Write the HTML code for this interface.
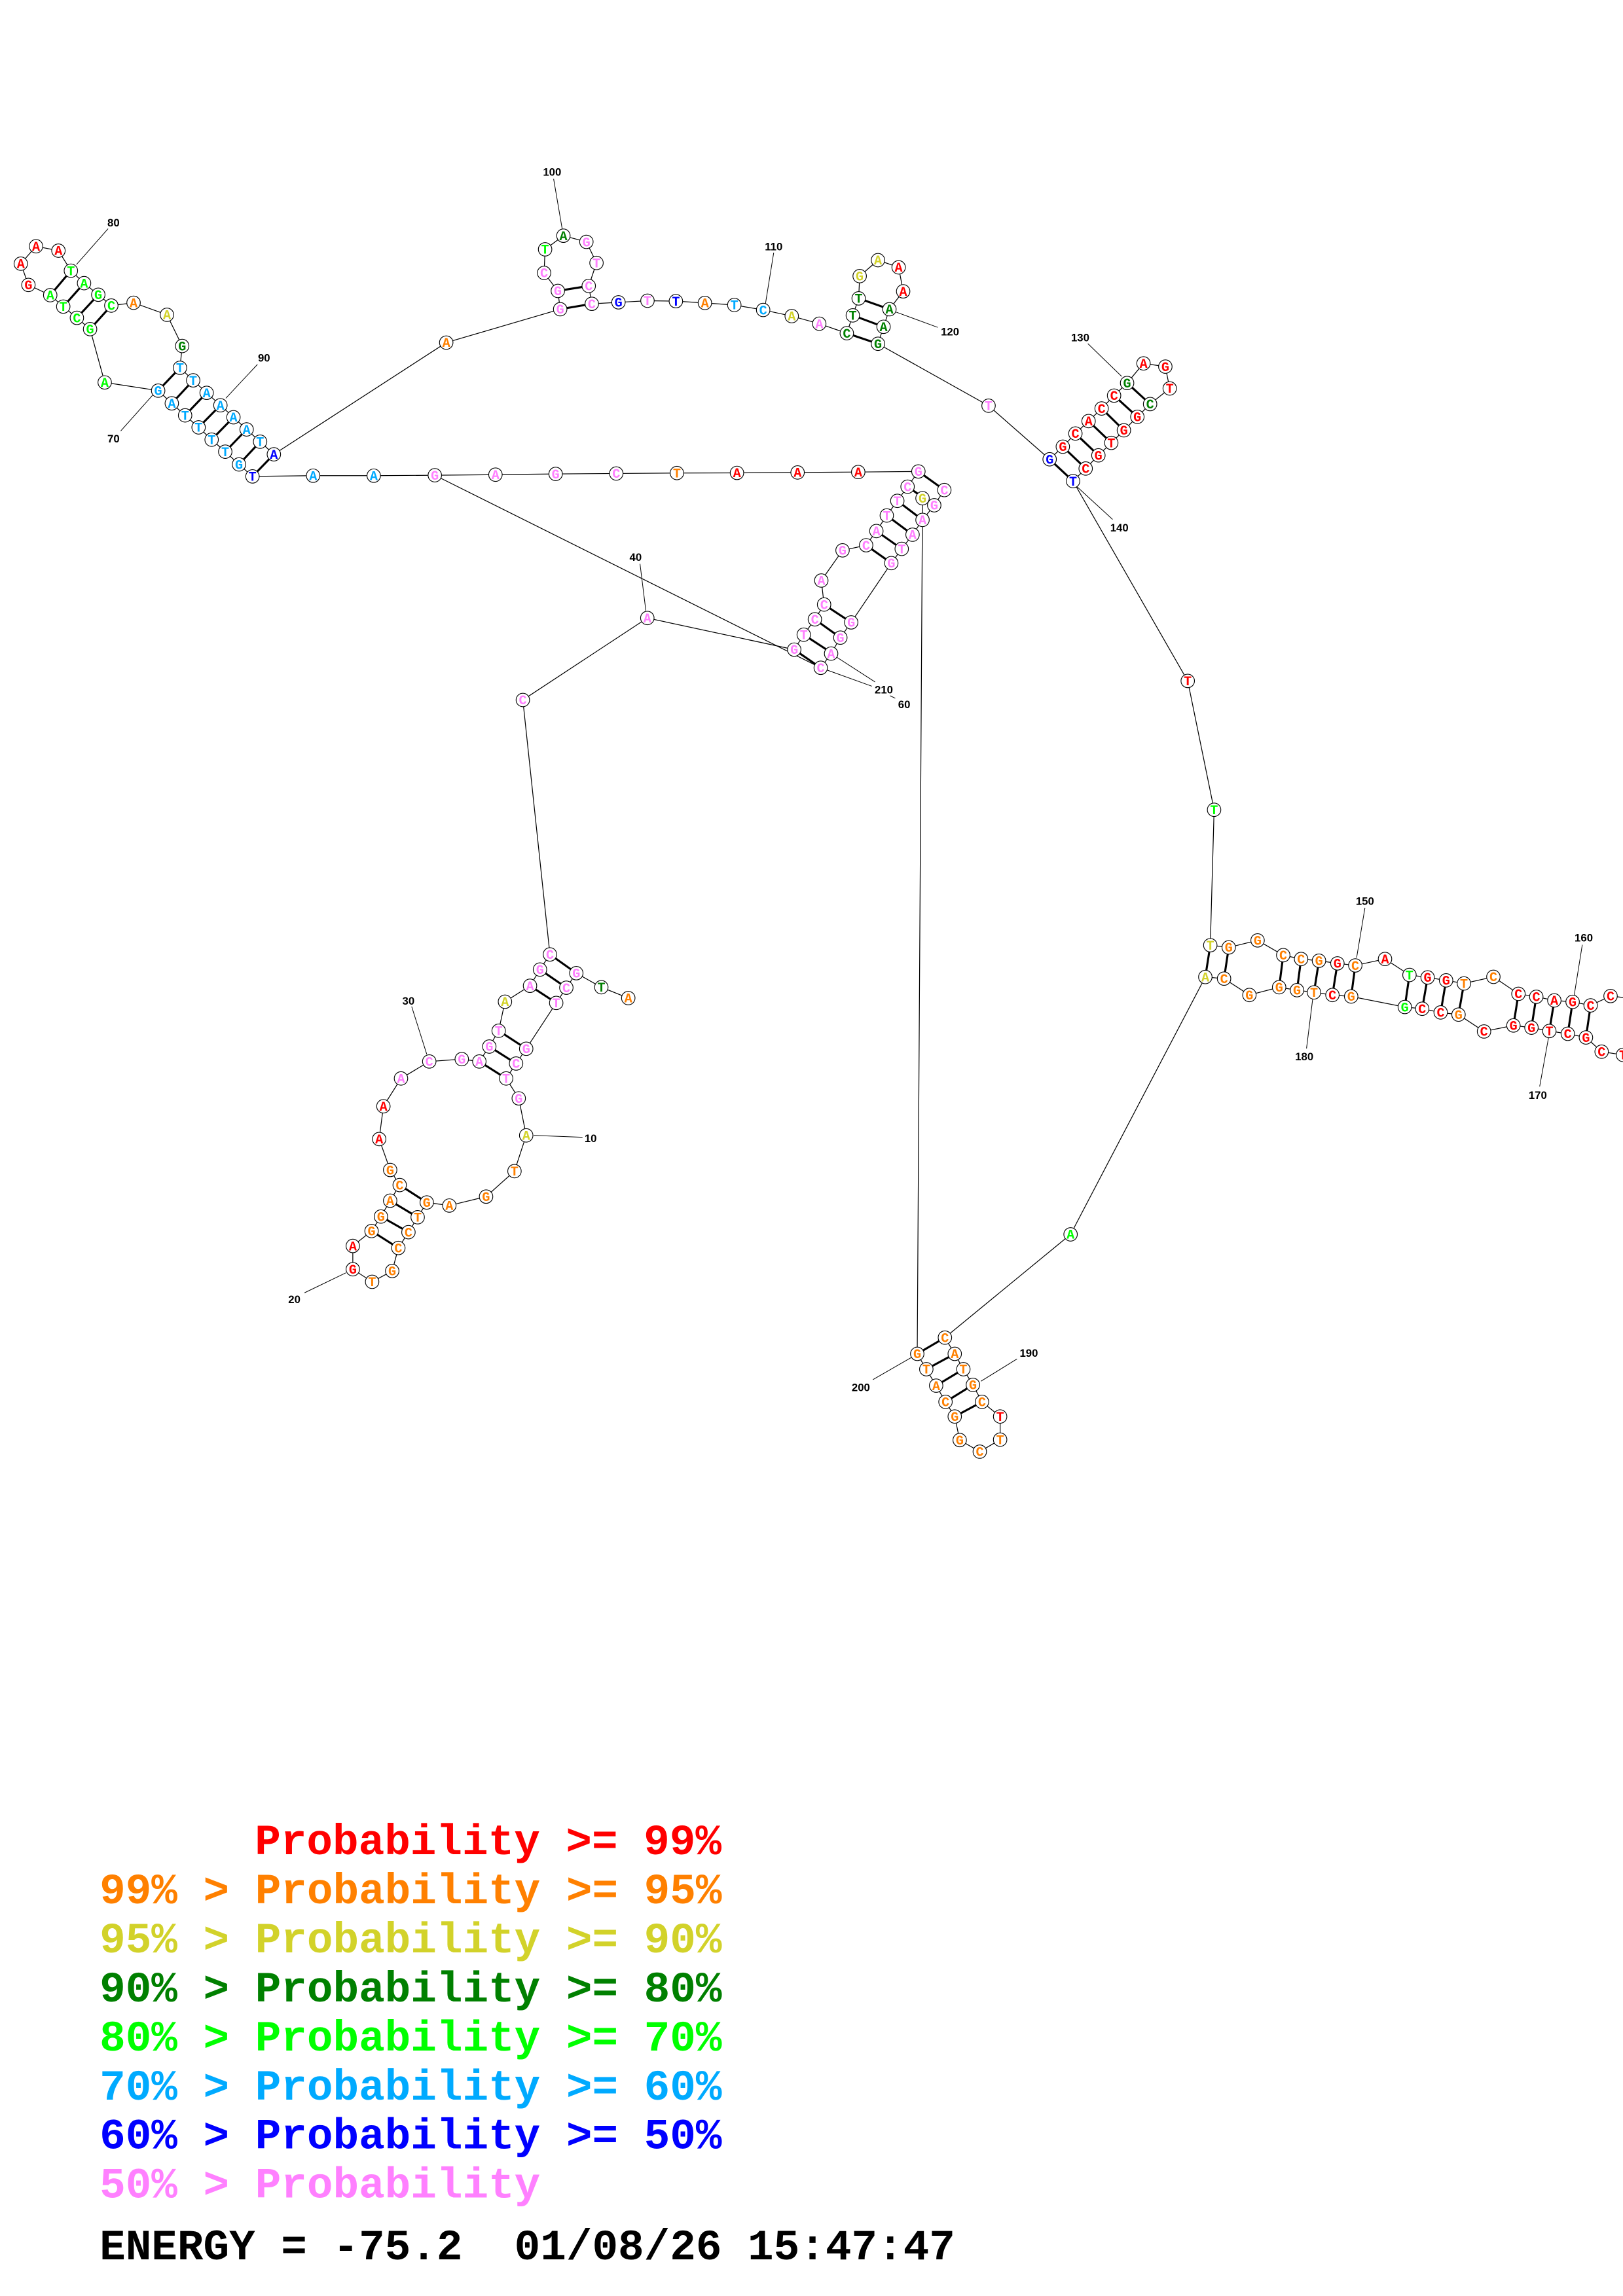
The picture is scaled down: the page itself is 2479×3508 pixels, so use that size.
<!DOCTYPE html>
<html><head><meta charset="utf-8"><style>
html,body{margin:0;padding:0;background:#fff}
svg{display:block}
.bb{fill:none;stroke:#000;stroke-width:0.55}
.pr{stroke:#000;stroke-width:1.4}
.ln{stroke:#000;stroke-width:0.45}
circle{fill:#fff;stroke:#000;stroke-width:0.5}
.nt text{font-family:"Liberation Mono",monospace;font-weight:bold;font-size:9px;text-anchor:middle}
.lb{font-family:"Liberation Sans",sans-serif;font-weight:bold;font-size:7.5px;text-anchor:middle;fill:#000}
.lg{font-family:"Liberation Mono",monospace;font-weight:bold;font-size:29.5px;white-space:pre}
.r{fill:#ff0000}.o{fill:#ff8000}.y{fill:#d2d22a}.d{fill:#008000}.l{fill:#00ff00}.s{fill:#00aaff}.b{fill:#0000ff}.p{fill:#ff80ff}.k{fill:#000}
</style></head><body>
<svg width="2479" height="3508" viewBox="0 0 1108.2 1568" xmlns="http://www.w3.org/2000/svg">
<rect width="1108.2" height="1568" fill="#fff"/>
<!-- backbone -->
<polyline class="bb" points="172.4,325.3 163.2,317.1 153.8,308.4 144.5,300.2 135.6,291.8 126.4,283.6 117.3,275.4 108,266.7 71.5,261.1 61.5,224.7 52.5,217 43.2,209.3 34.3,201.5 19.4,194.5 14.2,180 24.6,168.1 39.9,171.1 48.4,184.8 57.4,193.3 67.1,201.2 76,208.6 91.2,206.7 114,214.9 124.4,236.2 122.9,251.1 131.9,259.7 141.1,268.2 150.5,276.7 159.4,284.9 168.4,293.2 177.6,301.6 187,310.2 304.7,233.9 382.5,211.1 380.9,198.6 371.5,186.3 372.2,170.2 384.7,160.9 400.4,165.1 407.3,179.5 402,195.2 404.1,207.4 422.3,206.4 442.1,205.3 461.5,205.6 481.3,206.8 501.4,208.2 521.1,211.6 540.6,215.8 559.4,221 578.2,227.5 582.3,215.3 586.3,203.7 587,188.5 599.5,177.6 613.6,182.5 616.7,198.9 607.3,211.1 603.3,223.1 599.5,234.7 675,277 716.7,313.6 725.7,305 734.3,296 743.3,287.5 752.2,278.9 760.7,270.1 769.6,261.5 780.8,248.1 795.7,250.3 798.7,265.2 785.3,275.9 776.6,284.6 767.4,293.8 758.8,302.4 750,310.9 741.3,319.9 732.7,328.5 811,465 829,553 826.4,645.5 839,647 858.7,642.2 876.2,652.3 888.4,654.9 900.6,656.1 913.2,657.9 925.4,659.3 945.7,654.9 962.4,665.8 974.8,667.5 987.4,669.5 999.6,671.6 1019.7,667.1 1036.8,678.7 1049,680.7 1061.3,683.2 1073.8,684.2 1086.1,686.6 1099.7,680.2 1115,682"/>
<polyline class="bb" points="1115,718 1108.2,720.4 1093.6,718.2 1082.9,708.5 1070.5,706 1057.9,704.1 1045.7,701.8 1033.4,700.3 1013.3,704.4 995.9,692.9 983.7,691.4 971.1,688.9 959.2,687.7 922.6,680.5 909.8,679.5 897.2,677.7 885.6,676.2 873.4,674.2 853.1,679.5 835.8,668.3 823,667.2 731,843 645.2,913.5 651.9,924.6 657.8,935.1 664.3,945.8 670.5,957.4 682.9,967.4 682.9,983.2 669,991.4 655.3,983.5 651.9,967.4 645.6,957.4 639.2,946.3 632.5,935.1 626.3,924.6 629.9,340.2"/>
<polyline class="bb" points="172.4,325.3 213.8,324.8 255.2,324.8 296.9,324.5 338.3,324.1 379.4,323.6 420.8,323.3 462.2,323 503.2,322.9 544.6,322.6 586,322.3 627.1,321.9 619.7,332.3 612.7,342 605.5,352 598.4,362.6 591.4,372.3 575.3,375.8 560.8,396.4 562.7,412.8 556.4,422.9 548.8,433.4 542.3,443.6 560.4,456 567.5,446.3 573.8,435.4 581.2,425 608.6,384.5 615.7,374.8 623.1,365.1 629.9,355 637.9,345 644.8,334.6"/>
<polyline class="bb" points="619.7,332.3 629.9,340.2 637.9,345"/>
<polyline class="bb" points="429,681.6 410.6,674.2 393.5,664.6 386.7,674.5 379.8,684.9 359.3,716.2 352.4,726.3 345.6,736.5 354.2,750.1 359.3,775.4 351.3,799.8 331.9,817.2 306.8,823.3 291.4,821.2 285.2,831.3 278.9,841.5 272,852.3 267.8,868 254.1,875.4 240.9,866.8 240.9,850.9 253.7,840.7 260.1,830.8 266.4,820 272.9,809.3 266.4,799 258.9,777.9 261.8,755.5 273.8,736.5 293.1,724.9 315.3,723.3 327.3,724.9 334.1,714.7 340.5,703.9 344.8,684.1 361.9,673.2 368.7,662.1 375.5,651.8 357,478 442,422 542.3,443.6"/>
<line class="bb" x1="296.9" y1="324.5" x2="560.4" y2="456"/>
<!-- leaders -->
<g class="ln">
<line x1="560.4" y1="456" x2="595.3" y2="468.6"/><line x1="567.5" y1="446.3" x2="597.5" y2="465.7"/><line x1="607.7" y1="475.1" x2="611.3" y2="476.8"/>
<line x1="73.8" y1="156.1" x2="52.2" y2="180.6"/><line x1="175.8" y1="248.8" x2="154.2" y2="271.9"/><line x1="82.4" y1="294.3" x2="104.3" y2="269.7"/>
<line x1="378" y1="122" x2="384" y2="157"/><line x1="528.3" y1="172.5" x2="522.7" y2="207.1"/><line x1="640.3" y1="223.5" x2="612" y2="213.1"/>
<line x1="742.8" y1="234.6" x2="765.9" y2="257"/><line x1="735" y1="332" x2="759.7" y2="354.7"/>
<line x1="932" y1="619.9" x2="926.3" y2="654.1"/><line x1="1080.4" y1="645.2" x2="1074.8" y2="680.2"/><line x1="1051.3" y1="742" x2="1057.5" y2="707.8"/><line x1="892.1" y1="716" x2="896.3" y2="682.4"/>
<line x1="694.4" y1="928.1" x2="669.8" y2="943.3"/><line x1="596" y1="942.2" x2="622.1" y2="927.2"/>
<line x1="364.4" y1="775.4" x2="397.8" y2="776.7"/><line x1="207.9" y1="882.9" x2="236.1" y2="869.3"/><line x1="281.1" y1="687.4" x2="291.4" y2="720"/><line x1="437" y1="385" x2="441" y2="417"/>
</g>
<!-- pairs -->
<g class="pr">
<line x1="48.4" y1="184.8" x2="34.3" y2="201.5"/><line x1="57.4" y1="193.3" x2="43.2" y2="209.3"/><line x1="67.1" y1="201.2" x2="52.5" y2="217"/><line x1="76" y1="208.6" x2="61.5" y2="224.7"/>
<line x1="122.9" y1="251.1" x2="108" y2="266.7"/><line x1="131.9" y1="259.7" x2="117.3" y2="275.4"/><line x1="141.1" y1="268.2" x2="126.4" y2="283.6"/><line x1="150.5" y1="276.7" x2="135.6" y2="291.8"/><line x1="159.4" y1="284.9" x2="144.5" y2="300.2"/><line x1="168.4" y1="293.2" x2="153.8" y2="308.4"/><line x1="177.6" y1="301.6" x2="163.2" y2="317.1"/><line x1="187" y1="310.2" x2="172.4" y2="325.3"/>
<line x1="380.9" y1="198.6" x2="402" y2="195.2"/><line x1="382.5" y1="211.1" x2="404.1" y2="207.4"/>
<line x1="586.3" y1="203.7" x2="607.3" y2="211.1"/><line x1="582.3" y1="215.3" x2="603.3" y2="223.1"/><line x1="578.2" y1="227.5" x2="599.5" y2="234.7"/>
<line x1="769.6" y1="261.5" x2="785.3" y2="275.9"/><line x1="760.7" y1="270.1" x2="776.6" y2="284.6"/><line x1="752.2" y1="278.9" x2="767.4" y2="293.8"/><line x1="743.3" y1="287.5" x2="758.8" y2="302.4"/><line x1="734.3" y1="296" x2="750" y2="310.9"/><line x1="725.7" y1="305" x2="741.3" y2="319.9"/><line x1="716.7" y1="313.6" x2="732.7" y2="328.5"/>
<line x1="826.4" y1="645.5" x2="823" y2="667.2"/><line x1="839" y1="647" x2="835.8" y2="668.3"/><line x1="876.2" y1="652.3" x2="873.4" y2="674.2"/><line x1="888.4" y1="654.9" x2="885.6" y2="676.2"/><line x1="900.6" y1="656.1" x2="897.2" y2="677.7"/><line x1="913.2" y1="657.9" x2="909.8" y2="679.5"/><line x1="925.4" y1="659.3" x2="922.6" y2="680.5"/>
<line x1="962.4" y1="665.8" x2="959.2" y2="687.7"/><line x1="974.8" y1="667.5" x2="971.1" y2="688.9"/><line x1="987.4" y1="669.5" x2="983.7" y2="691.4"/><line x1="999.6" y1="671.6" x2="995.9" y2="692.9"/>
<line x1="1036.8" y1="678.7" x2="1033.4" y2="700.3"/><line x1="1049" y1="680.7" x2="1045.7" y2="701.8"/><line x1="1061.3" y1="683.2" x2="1057.9" y2="704.1"/><line x1="1073.8" y1="684.2" x2="1070.5" y2="706"/><line x1="1086.1" y1="686.6" x2="1082.9" y2="708.5"/>
<line x1="626.3" y1="924.6" x2="645.2" y2="913.5"/><line x1="632.5" y1="935.1" x2="651.9" y2="924.6"/><line x1="639.2" y1="946.3" x2="657.8" y2="935.1"/><line x1="645.6" y1="957.4" x2="664.3" y2="945.8"/><line x1="651.9" y1="967.4" x2="670.5" y2="957.4"/>
<line x1="375.5" y1="651.8" x2="393.5" y2="664.6"/><line x1="368.7" y1="662.1" x2="386.7" y2="674.5"/><line x1="361.9" y1="673.2" x2="379.8" y2="684.9"/><line x1="340.5" y1="703.9" x2="359.3" y2="716.2"/><line x1="334.1" y1="714.7" x2="352.4" y2="726.3"/><line x1="327.3" y1="724.9" x2="345.6" y2="736.5"/>
<line x1="272.9" y1="809.3" x2="291.4" y2="821.2"/><line x1="266.4" y1="820" x2="285.2" y2="831.3"/><line x1="260.1" y1="830.8" x2="278.9" y2="841.5"/><line x1="253.7" y1="840.7" x2="272" y2="852.3"/>
<line x1="627.1" y1="321.9" x2="644.8" y2="334.6"/><line x1="619.7" y1="332.3" x2="637.9" y2="345"/><line x1="612.7" y1="342" x2="629.9" y2="355"/><line x1="605.5" y1="352" x2="623.1" y2="365.1"/><line x1="598.4" y1="362.6" x2="615.7" y2="374.8"/><line x1="591.4" y1="372.3" x2="608.6" y2="384.5"/>
<line x1="562.7" y1="412.8" x2="581.2" y2="425"/><line x1="556.4" y1="422.9" x2="573.8" y2="435.4"/><line x1="548.8" y1="433.4" x2="567.5" y2="445.6"/><line x1="542.3" y1="443.6" x2="560.4" y2="456"/>
</g>
<!-- nodes -->
<g class="nt">
<circle cx="24.6" cy="168.1" r="4.6"/><text x="24.6" y="171.1" class="r">A</text>
<circle cx="39.9" cy="171.1" r="4.6"/><text x="39.9" y="174.1" class="r">A</text>
<circle cx="14.2" cy="180" r="4.6"/><text x="14.2" y="183" class="r">A</text>
<circle cx="19.4" cy="194.5" r="4.6"/><text x="19.4" y="197.5" class="r">G</text>
<circle cx="48.4" cy="184.8" r="4.6"/><text x="48.4" y="187.8" class="l">T</text>
<circle cx="57.4" cy="193.3" r="4.6"/><text x="57.4" y="196.3" class="l">A</text>
<circle cx="67.1" cy="201.2" r="4.6"/><text x="67.1" y="204.2" class="l">G</text>
<circle cx="76" cy="208.6" r="4.6"/><text x="76" y="211.6" class="l">C</text>
<circle cx="34.3" cy="201.5" r="4.6"/><text x="34.3" y="204.5" class="l">A</text>
<circle cx="43.2" cy="209.3" r="4.6"/><text x="43.2" y="212.3" class="l">T</text>
<circle cx="52.5" cy="217" r="4.6"/><text x="52.5" y="220" class="l">C</text>
<circle cx="61.5" cy="224.7" r="4.6"/><text x="61.5" y="227.7" class="l">G</text>
<circle cx="91.2" cy="206.7" r="4.6"/><text x="91.2" y="209.7" class="o">A</text>
<circle cx="114" cy="214.9" r="4.6"/><text x="114" y="217.9" class="y">A</text>
<circle cx="124.4" cy="236.2" r="4.6"/><text x="124.4" y="239.2" class="d">G</text>
<circle cx="122.9" cy="251.1" r="4.6"/><text x="122.9" y="254.1" class="s">T</text>
<circle cx="131.9" cy="259.7" r="4.6"/><text x="131.9" y="262.7" class="s">T</text>
<circle cx="141.1" cy="268.2" r="4.6"/><text x="141.1" y="271.2" class="s">A</text>
<circle cx="150.5" cy="276.7" r="4.6"/><text x="150.5" y="279.7" class="s">A</text>
<circle cx="159.4" cy="284.9" r="4.6"/><text x="159.4" y="287.9" class="s">A</text>
<circle cx="168.4" cy="293.2" r="4.6"/><text x="168.4" y="296.2" class="s">A</text>
<circle cx="177.6" cy="301.6" r="4.6"/><text x="177.6" y="304.6" class="s">T</text>
<circle cx="187" cy="310.2" r="4.6"/><text x="187" y="313.2" class="b">A</text>
<circle cx="108" cy="266.7" r="4.6"/><text x="108" y="269.7" class="s">G</text>
<circle cx="117.3" cy="275.4" r="4.6"/><text x="117.3" y="278.4" class="s">A</text>
<circle cx="126.4" cy="283.6" r="4.6"/><text x="126.4" y="286.6" class="s">T</text>
<circle cx="135.6" cy="291.8" r="4.6"/><text x="135.6" y="294.8" class="s">T</text>
<circle cx="144.5" cy="300.2" r="4.6"/><text x="144.5" y="303.2" class="s">T</text>
<circle cx="153.8" cy="308.4" r="4.6"/><text x="153.8" y="311.4" class="s">T</text>
<circle cx="163.2" cy="317.1" r="4.6"/><text x="163.2" y="320.1" class="s">G</text>
<circle cx="172.4" cy="325.3" r="4.6"/><text x="172.4" y="328.3" class="b">T</text>
<circle cx="71.5" cy="261.1" r="4.6"/><text x="71.5" y="264.1" class="l">A</text>
<circle cx="304.7" cy="233.9" r="4.6"/><text x="304.7" y="236.9" class="o">A</text>
<circle cx="384.7" cy="160.9" r="4.6"/><text x="384.7" y="163.9" class="d">A</text>
<circle cx="400.4" cy="165.1" r="4.6"/><text x="400.4" y="168.1" class="p">G</text>
<circle cx="372.2" cy="170.2" r="4.6"/><text x="372.2" y="173.2" class="l">T</text>
<circle cx="407.3" cy="179.5" r="4.6"/><text x="407.3" y="182.5" class="p">T</text>
<circle cx="371.5" cy="186.3" r="4.6"/><text x="371.5" y="189.3" class="p">C</text>
<circle cx="402" cy="195.2" r="4.6"/><text x="402" y="198.2" class="p">C</text>
<circle cx="380.9" cy="198.6" r="4.6"/><text x="380.9" y="201.6" class="p">G</text>
<circle cx="382.5" cy="211.1" r="4.6"/><text x="382.5" y="214.1" class="p">G</text>
<circle cx="404.1" cy="207.4" r="4.6"/><text x="404.1" y="210.4" class="p">C</text>
<circle cx="422.3" cy="206.4" r="4.6"/><text x="422.3" y="209.4" class="b">G</text>
<circle cx="442.1" cy="205.3" r="4.6"/><text x="442.1" y="208.3" class="p">T</text>
<circle cx="461.5" cy="205.6" r="4.6"/><text x="461.5" y="208.6" class="b">T</text>
<circle cx="481.3" cy="206.8" r="4.6"/><text x="481.3" y="209.8" class="o">A</text>
<circle cx="501.4" cy="208.2" r="4.6"/><text x="501.4" y="211.2" class="s">T</text>
<circle cx="521.1" cy="211.6" r="4.6"/><text x="521.1" y="214.6" class="s">C</text>
<circle cx="540.6" cy="215.8" r="4.6"/><text x="540.6" y="218.8" class="y">A</text>
<circle cx="559.4" cy="221" r="4.6"/><text x="559.4" y="224" class="p">A</text>
<circle cx="578.2" cy="227.5" r="4.6"/><text x="578.2" y="230.5" class="d">C</text>
<circle cx="599.5" cy="234.7" r="4.6"/><text x="599.5" y="237.7" class="d">G</text>
<circle cx="582.3" cy="215.3" r="4.6"/><text x="582.3" y="218.3" class="d">T</text>
<circle cx="586.3" cy="203.7" r="4.6"/><text x="586.3" y="206.7" class="d">T</text>
<circle cx="587" cy="188.5" r="4.6"/><text x="587" y="191.5" class="y">G</text>
<circle cx="599.5" cy="177.6" r="4.6"/><text x="599.5" y="180.6" class="y">A</text>
<circle cx="613.6" cy="182.5" r="4.6"/><text x="613.6" y="185.5" class="r">A</text>
<circle cx="616.7" cy="198.9" r="4.6"/><text x="616.7" y="201.9" class="r">A</text>
<circle cx="607.3" cy="211.1" r="4.6"/><text x="607.3" y="214.1" class="d">A</text>
<circle cx="603.3" cy="223.1" r="4.6"/><text x="603.3" y="226.1" class="d">A</text>
<circle cx="675" cy="277" r="4.6"/><text x="675" y="280" class="p">T</text>
<circle cx="780.8" cy="248.1" r="4.6"/><text x="780.8" y="251.1" class="r">A</text>
<circle cx="795.7" cy="250.3" r="4.6"/><text x="795.7" y="253.3" class="r">G</text>
<circle cx="798.7" cy="265.2" r="4.6"/><text x="798.7" y="268.2" class="r">T</text>
<circle cx="785.3" cy="275.9" r="4.6"/><text x="785.3" y="278.9" class="d">C</text>
<circle cx="776.6" cy="284.6" r="4.6"/><text x="776.6" y="287.6" class="r">G</text>
<circle cx="767.4" cy="293.8" r="4.6"/><text x="767.4" y="296.8" class="r">G</text>
<circle cx="758.8" cy="302.4" r="4.6"/><text x="758.8" y="305.4" class="r">T</text>
<circle cx="750" cy="310.9" r="4.6"/><text x="750" y="313.9" class="r">G</text>
<circle cx="741.3" cy="319.9" r="4.6"/><text x="741.3" y="322.9" class="r">C</text>
<circle cx="732.7" cy="328.5" r="4.6"/><text x="732.7" y="331.5" class="b">T</text>
<circle cx="716.7" cy="313.6" r="4.6"/><text x="716.7" y="316.6" class="b">G</text>
<circle cx="725.7" cy="305" r="4.6"/><text x="725.7" y="308" class="r">G</text>
<circle cx="734.3" cy="296" r="4.6"/><text x="734.3" y="299" class="r">C</text>
<circle cx="743.3" cy="287.5" r="4.6"/><text x="743.3" y="290.5" class="r">A</text>
<circle cx="752.2" cy="278.9" r="4.6"/><text x="752.2" y="281.9" class="r">C</text>
<circle cx="760.7" cy="270.1" r="4.6"/><text x="760.7" y="273.1" class="r">C</text>
<circle cx="769.6" cy="261.5" r="4.6"/><text x="769.6" y="264.5" class="d">G</text>
<circle cx="811" cy="465" r="4.6"/><text x="811" y="468" class="r">T</text>
<circle cx="829" cy="553" r="4.6"/><text x="829" y="556" class="l">T</text>
<circle cx="826.4" cy="645.5" r="4.6"/><text x="826.4" y="648.5" class="y">T</text>
<circle cx="823" cy="667.2" r="4.6"/><text x="823" y="670.2" class="y">A</text>
<circle cx="839" cy="647" r="4.6"/><text x="839" y="650" class="o">G</text>
<circle cx="835.8" cy="668.3" r="4.6"/><text x="835.8" y="671.3" class="o">C</text>
<circle cx="858.7" cy="642.2" r="4.6"/><text x="858.7" y="645.2" class="o">G</text>
<circle cx="853.1" cy="679.5" r="4.6"/><text x="853.1" y="682.5" class="o">G</text>
<circle cx="876.2" cy="652.3" r="4.6"/><text x="876.2" y="655.3" class="o">C</text>
<circle cx="888.4" cy="654.9" r="4.6"/><text x="888.4" y="657.9" class="o">C</text>
<circle cx="900.6" cy="656.1" r="4.6"/><text x="900.6" y="659.1" class="o">G</text>
<circle cx="913.2" cy="657.9" r="4.6"/><text x="913.2" y="660.9" class="r">G</text>
<circle cx="925.4" cy="659.3" r="4.6"/><text x="925.4" y="662.3" class="o">C</text>
<circle cx="945.7" cy="654.9" r="4.6"/><text x="945.7" y="657.9" class="r">A</text>
<circle cx="873.4" cy="674.2" r="4.6"/><text x="873.4" y="677.2" class="o">G</text>
<circle cx="885.6" cy="676.2" r="4.6"/><text x="885.6" y="679.2" class="o">G</text>
<circle cx="897.2" cy="677.7" r="4.6"/><text x="897.2" y="680.7" class="o">T</text>
<circle cx="909.8" cy="679.5" r="4.6"/><text x="909.8" y="682.5" class="r">C</text>
<circle cx="922.6" cy="680.5" r="4.6"/><text x="922.6" y="683.5" class="o">G</text>
<circle cx="962.4" cy="665.8" r="4.6"/><text x="962.4" y="668.8" class="l">T</text>
<circle cx="974.8" cy="667.5" r="4.6"/><text x="974.8" y="670.5" class="r">G</text>
<circle cx="987.4" cy="669.5" r="4.6"/><text x="987.4" y="672.5" class="r">G</text>
<circle cx="999.6" cy="671.6" r="4.6"/><text x="999.6" y="674.6" class="o">T</text>
<circle cx="1019.7" cy="667.1" r="4.6"/><text x="1019.7" y="670.1" class="o">C</text>
<circle cx="959.2" cy="687.7" r="4.6"/><text x="959.2" y="690.7" class="l">G</text>
<circle cx="971.1" cy="688.9" r="4.6"/><text x="971.1" y="691.9" class="r">C</text>
<circle cx="983.7" cy="691.4" r="4.6"/><text x="983.7" y="694.4" class="r">C</text>
<circle cx="995.9" cy="692.9" r="4.6"/><text x="995.9" y="695.9" class="o">G</text>
<circle cx="1013.3" cy="704.4" r="4.6"/><text x="1013.3" y="707.4" class="r">C</text>
<circle cx="1036.8" cy="678.7" r="4.6"/><text x="1036.8" y="681.7" class="r">C</text>
<circle cx="1049" cy="680.7" r="4.6"/><text x="1049" y="683.7" class="r">C</text>
<circle cx="1061.3" cy="683.2" r="4.6"/><text x="1061.3" y="686.2" class="r">A</text>
<circle cx="1073.8" cy="684.2" r="4.6"/><text x="1073.8" y="687.2" class="r">G</text>
<circle cx="1086.1" cy="686.6" r="4.6"/><text x="1086.1" y="689.6" class="r">C</text>
<circle cx="1099.7" cy="680.2" r="4.6"/><text x="1099.7" y="683.2" class="r">C</text>
<circle cx="1033.4" cy="700.3" r="4.6"/><text x="1033.4" y="703.3" class="r">G</text>
<circle cx="1045.7" cy="701.8" r="4.6"/><text x="1045.7" y="704.8" class="r">G</text>
<circle cx="1057.9" cy="704.1" r="4.6"/><text x="1057.9" y="707.1" class="r">T</text>
<circle cx="1070.5" cy="706" r="4.6"/><text x="1070.5" y="709" class="r">C</text>
<circle cx="1082.9" cy="708.5" r="4.6"/><text x="1082.9" y="711.5" class="r">G</text>
<circle cx="1093.6" cy="718.2" r="4.6"/><text x="1093.6" y="721.2" class="r">C</text>
<circle cx="1108.2" cy="720.4" r="4.6"/><text x="1108.2" y="723.4" class="r">T</text>
<circle cx="731" cy="843" r="4.6"/><text x="731" y="846" class="l">A</text>
<circle cx="645.2" cy="913.5" r="4.6"/><text x="645.2" y="916.5" class="o">C</text>
<circle cx="626.3" cy="924.6" r="4.6"/><text x="626.3" y="927.6" class="o">G</text>
<circle cx="651.9" cy="924.6" r="4.6"/><text x="651.9" y="927.6" class="o">A</text>
<circle cx="632.5" cy="935.1" r="4.6"/><text x="632.5" y="938.1" class="o">T</text>
<circle cx="657.8" cy="935.1" r="4.6"/><text x="657.8" y="938.1" class="o">T</text>
<circle cx="639.2" cy="946.3" r="4.6"/><text x="639.2" y="949.3" class="o">A</text>
<circle cx="664.3" cy="945.8" r="4.6"/><text x="664.3" y="948.8" class="o">G</text>
<circle cx="645.6" cy="957.4" r="4.6"/><text x="645.6" y="960.4" class="o">C</text>
<circle cx="670.5" cy="957.4" r="4.6"/><text x="670.5" y="960.4" class="o">C</text>
<circle cx="651.9" cy="967.4" r="4.6"/><text x="651.9" y="970.4" class="o">G</text>
<circle cx="682.9" cy="967.4" r="4.6"/><text x="682.9" y="970.4" class="r">T</text>
<circle cx="655.3" cy="983.5" r="4.6"/><text x="655.3" y="986.5" class="o">G</text>
<circle cx="682.9" cy="983.2" r="4.6"/><text x="682.9" y="986.2" class="o">T</text>
<circle cx="669" cy="991.4" r="4.6"/><text x="669" y="994.4" class="o">C</text>
<circle cx="375.5" cy="651.8" r="4.6"/><text x="375.5" y="654.8" class="p">C</text>
<circle cx="368.7" cy="662.1" r="4.6"/><text x="368.7" y="665.1" class="p">G</text>
<circle cx="361.9" cy="673.2" r="4.6"/><text x="361.9" y="676.2" class="p">A</text>
<circle cx="344.8" cy="684.1" r="4.6"/><text x="344.8" y="687.1" class="y">A</text>
<circle cx="340.5" cy="703.9" r="4.6"/><text x="340.5" y="706.9" class="p">T</text>
<circle cx="334.1" cy="714.7" r="4.6"/><text x="334.1" y="717.7" class="p">G</text>
<circle cx="327.3" cy="724.9" r="4.6"/><text x="327.3" y="727.9" class="p">A</text>
<circle cx="315.3" cy="723.3" r="4.6"/><text x="315.3" y="726.3" class="p">G</text>
<circle cx="293.1" cy="724.9" r="4.6"/><text x="293.1" y="727.9" class="p">C</text>
<circle cx="273.8" cy="736.5" r="4.6"/><text x="273.8" y="739.5" class="p">A</text>
<circle cx="261.8" cy="755.5" r="4.6"/><text x="261.8" y="758.5" class="r">A</text>
<circle cx="258.9" cy="777.9" r="4.6"/><text x="258.9" y="780.9" class="r">A</text>
<circle cx="266.4" cy="799" r="4.6"/><text x="266.4" y="802" class="o">G</text>
<circle cx="272.9" cy="809.3" r="4.6"/><text x="272.9" y="812.3" class="o">C</text>
<circle cx="266.4" cy="820" r="4.6"/><text x="266.4" y="823" class="o">A</text>
<circle cx="260.1" cy="830.8" r="4.6"/><text x="260.1" y="833.8" class="o">G</text>
<circle cx="253.7" cy="840.7" r="4.6"/><text x="253.7" y="843.7" class="o">G</text>
<circle cx="240.9" cy="850.9" r="4.6"/><text x="240.9" y="853.9" class="r">A</text>
<circle cx="240.9" cy="866.8" r="4.6"/><text x="240.9" y="869.8" class="r">G</text>
<circle cx="254.1" cy="875.4" r="4.6"/><text x="254.1" y="878.4" class="o">T</text>
<circle cx="267.8" cy="868" r="4.6"/><text x="267.8" y="871" class="o">G</text>
<circle cx="272" cy="852.3" r="4.6"/><text x="272" y="855.3" class="o">C</text>
<circle cx="278.9" cy="841.5" r="4.6"/><text x="278.9" y="844.5" class="o">C</text>
<circle cx="285.2" cy="831.3" r="4.6"/><text x="285.2" y="834.3" class="o">T</text>
<circle cx="291.4" cy="821.2" r="4.6"/><text x="291.4" y="824.2" class="o">G</text>
<circle cx="306.8" cy="823.3" r="4.6"/><text x="306.8" y="826.3" class="o">A</text>
<circle cx="331.9" cy="817.2" r="4.6"/><text x="331.9" y="820.2" class="o">G</text>
<circle cx="351.3" cy="799.8" r="4.6"/><text x="351.3" y="802.8" class="o">T</text>
<circle cx="359.3" cy="775.4" r="4.6"/><text x="359.3" y="778.4" class="y">A</text>
<circle cx="354.2" cy="750.1" r="4.6"/><text x="354.2" y="753.1" class="p">G</text>
<circle cx="345.6" cy="736.5" r="4.6"/><text x="345.6" y="739.5" class="p">T</text>
<circle cx="352.4" cy="726.3" r="4.6"/><text x="352.4" y="729.3" class="p">C</text>
<circle cx="359.3" cy="716.2" r="4.6"/><text x="359.3" y="719.2" class="p">G</text>
<circle cx="379.8" cy="684.9" r="4.6"/><text x="379.8" y="687.9" class="p">T</text>
<circle cx="386.7" cy="674.5" r="4.6"/><text x="386.7" y="677.5" class="p">C</text>
<circle cx="393.5" cy="664.6" r="4.6"/><text x="393.5" y="667.6" class="p">G</text>
<circle cx="410.6" cy="674.2" r="4.6"/><text x="410.6" y="677.2" class="d">T</text>
<circle cx="429" cy="681.6" r="4.6"/><text x="429" y="684.6" class="o">A</text>
<circle cx="357" cy="478" r="4.6"/><text x="357" y="481" class="p">C</text>
<circle cx="442" cy="422" r="4.6"/><text x="442" y="425" class="p">A</text>
<circle cx="213.8" cy="324.8" r="4.6"/><text x="213.8" y="327.8" class="s">A</text>
<circle cx="255.2" cy="324.8" r="4.6"/><text x="255.2" y="327.8" class="s">A</text>
<circle cx="296.9" cy="324.5" r="4.6"/><text x="296.9" y="327.5" class="p">G</text>
<circle cx="338.3" cy="324.1" r="4.6"/><text x="338.3" y="327.1" class="p">A</text>
<circle cx="379.4" cy="323.6" r="4.6"/><text x="379.4" y="326.6" class="p">G</text>
<circle cx="420.8" cy="323.3" r="4.6"/><text x="420.8" y="326.3" class="p">C</text>
<circle cx="462.2" cy="323" r="4.6"/><text x="462.2" y="326" class="o">T</text>
<circle cx="503.2" cy="322.9" r="4.6"/><text x="503.2" y="325.9" class="r">A</text>
<circle cx="544.6" cy="322.6" r="4.6"/><text x="544.6" y="325.6" class="r">A</text>
<circle cx="586" cy="322.3" r="4.6"/><text x="586" y="325.3" class="r">A</text>
<circle cx="627.1" cy="321.9" r="4.6"/><text x="627.1" y="324.9" class="p">G</text>
<circle cx="619.7" cy="332.3" r="4.6"/><text x="619.7" y="335.3" class="p">C</text>
<circle cx="644.8" cy="334.6" r="4.6"/><text x="644.8" y="337.6" class="p">C</text>
<circle cx="637.9" cy="345" r="4.6"/><text x="637.9" y="348" class="p">G</text>
<circle cx="629.9" cy="340.2" r="4.6"/><text x="629.9" y="343.2" class="y">G</text>
<circle cx="612.7" cy="342" r="4.6"/><text x="612.7" y="345" class="p">T</text>
<circle cx="605.5" cy="352" r="4.6"/><text x="605.5" y="355" class="p">T</text>
<circle cx="598.4" cy="362.6" r="4.6"/><text x="598.4" y="365.6" class="p">A</text>
<circle cx="591.4" cy="372.3" r="4.6"/><text x="591.4" y="375.3" class="p">C</text>
<circle cx="575.3" cy="375.8" r="4.6"/><text x="575.3" y="378.8" class="p">G</text>
<circle cx="629.9" cy="355" r="4.6"/><text x="629.9" y="358" class="p">A</text>
<circle cx="623.1" cy="365.1" r="4.6"/><text x="623.1" y="368.1" class="p">A</text>
<circle cx="615.7" cy="374.8" r="4.6"/><text x="615.7" y="377.8" class="p">T</text>
<circle cx="608.6" cy="384.5" r="4.6"/><text x="608.6" y="387.5" class="p">G</text>
<circle cx="560.8" cy="396.4" r="4.6"/><text x="560.8" y="399.4" class="p">A</text>
<circle cx="562.7" cy="412.8" r="4.6"/><text x="562.7" y="415.8" class="p">C</text>
<circle cx="581.2" cy="425" r="4.6"/><text x="581.2" y="428" class="p">G</text>
<circle cx="556.4" cy="422.9" r="4.6"/><text x="556.4" y="425.9" class="p">C</text>
<circle cx="573.8" cy="435.4" r="4.6"/><text x="573.8" y="438.4" class="p">G</text>
<circle cx="548.8" cy="433.4" r="4.6"/><text x="548.8" y="436.4" class="p">T</text>
<circle cx="567.5" cy="446.3" r="4.6"/><text x="567.5" y="449.3" class="p">A</text>
<circle cx="542.3" cy="443.6" r="4.6"/><text x="542.3" y="446.6" class="p">G</text>
<circle cx="560.4" cy="456" r="4.6"/><text x="560.4" y="459" class="p">C</text>
</g>
<!-- number labels -->
<g class="lb">
<text x="77.5" y="154.5">80</text><text x="180.3" y="247">90</text><text x="77.5" y="302">70</text>
<text x="377" y="120">100</text><text x="528.3" y="171">110</text><text x="648.7" y="229">120</text>
<text x="737.6" y="233">130</text><text x="764.3" y="363">140</text><text x="932" y="618">150</text>
<text x="1081.4" y="643">160</text><text x="1050" y="750.5">170</text><text x="890.6" y="724">180</text>
<text x="702.5" y="926.5">190</text><text x="587.8" y="950">200</text><text x="603.5" y="473.5">210</text>
<text x="617.4" y="483.5">60</text><text x="403.3" y="780">10</text><text x="201" y="890">20</text>
<text x="278.9" y="686">30</text><text x="434" y="383">40</text>
</g>
<!-- legend -->
<text class="lg r" x="174" y="1266.4">Probability &gt;= 99%</text>
<text class="lg o" x="68" y="1299.9">99% &gt; Probability &gt;= 95%</text>
<text class="lg y" x="68" y="1333.4">95% &gt; Probability &gt;= 90%</text>
<text class="lg d" x="68" y="1366.9">90% &gt; Probability &gt;= 80%</text>
<text class="lg l" x="68" y="1400.4">80% &gt; Probability &gt;= 70%</text>
<text class="lg s" x="68" y="1433.9">70% &gt; Probability &gt;= 60%</text>
<text class="lg b" x="68" y="1467.4">60% &gt; Probability &gt;= 50%</text>
<text class="lg p" x="68" y="1500.9">50% &gt; Probability</text>
<text class="lg k" x="68" y="1543">ENERGY = -75.2  01/08/26 15:47:47</text>
</svg>
</body></html>
